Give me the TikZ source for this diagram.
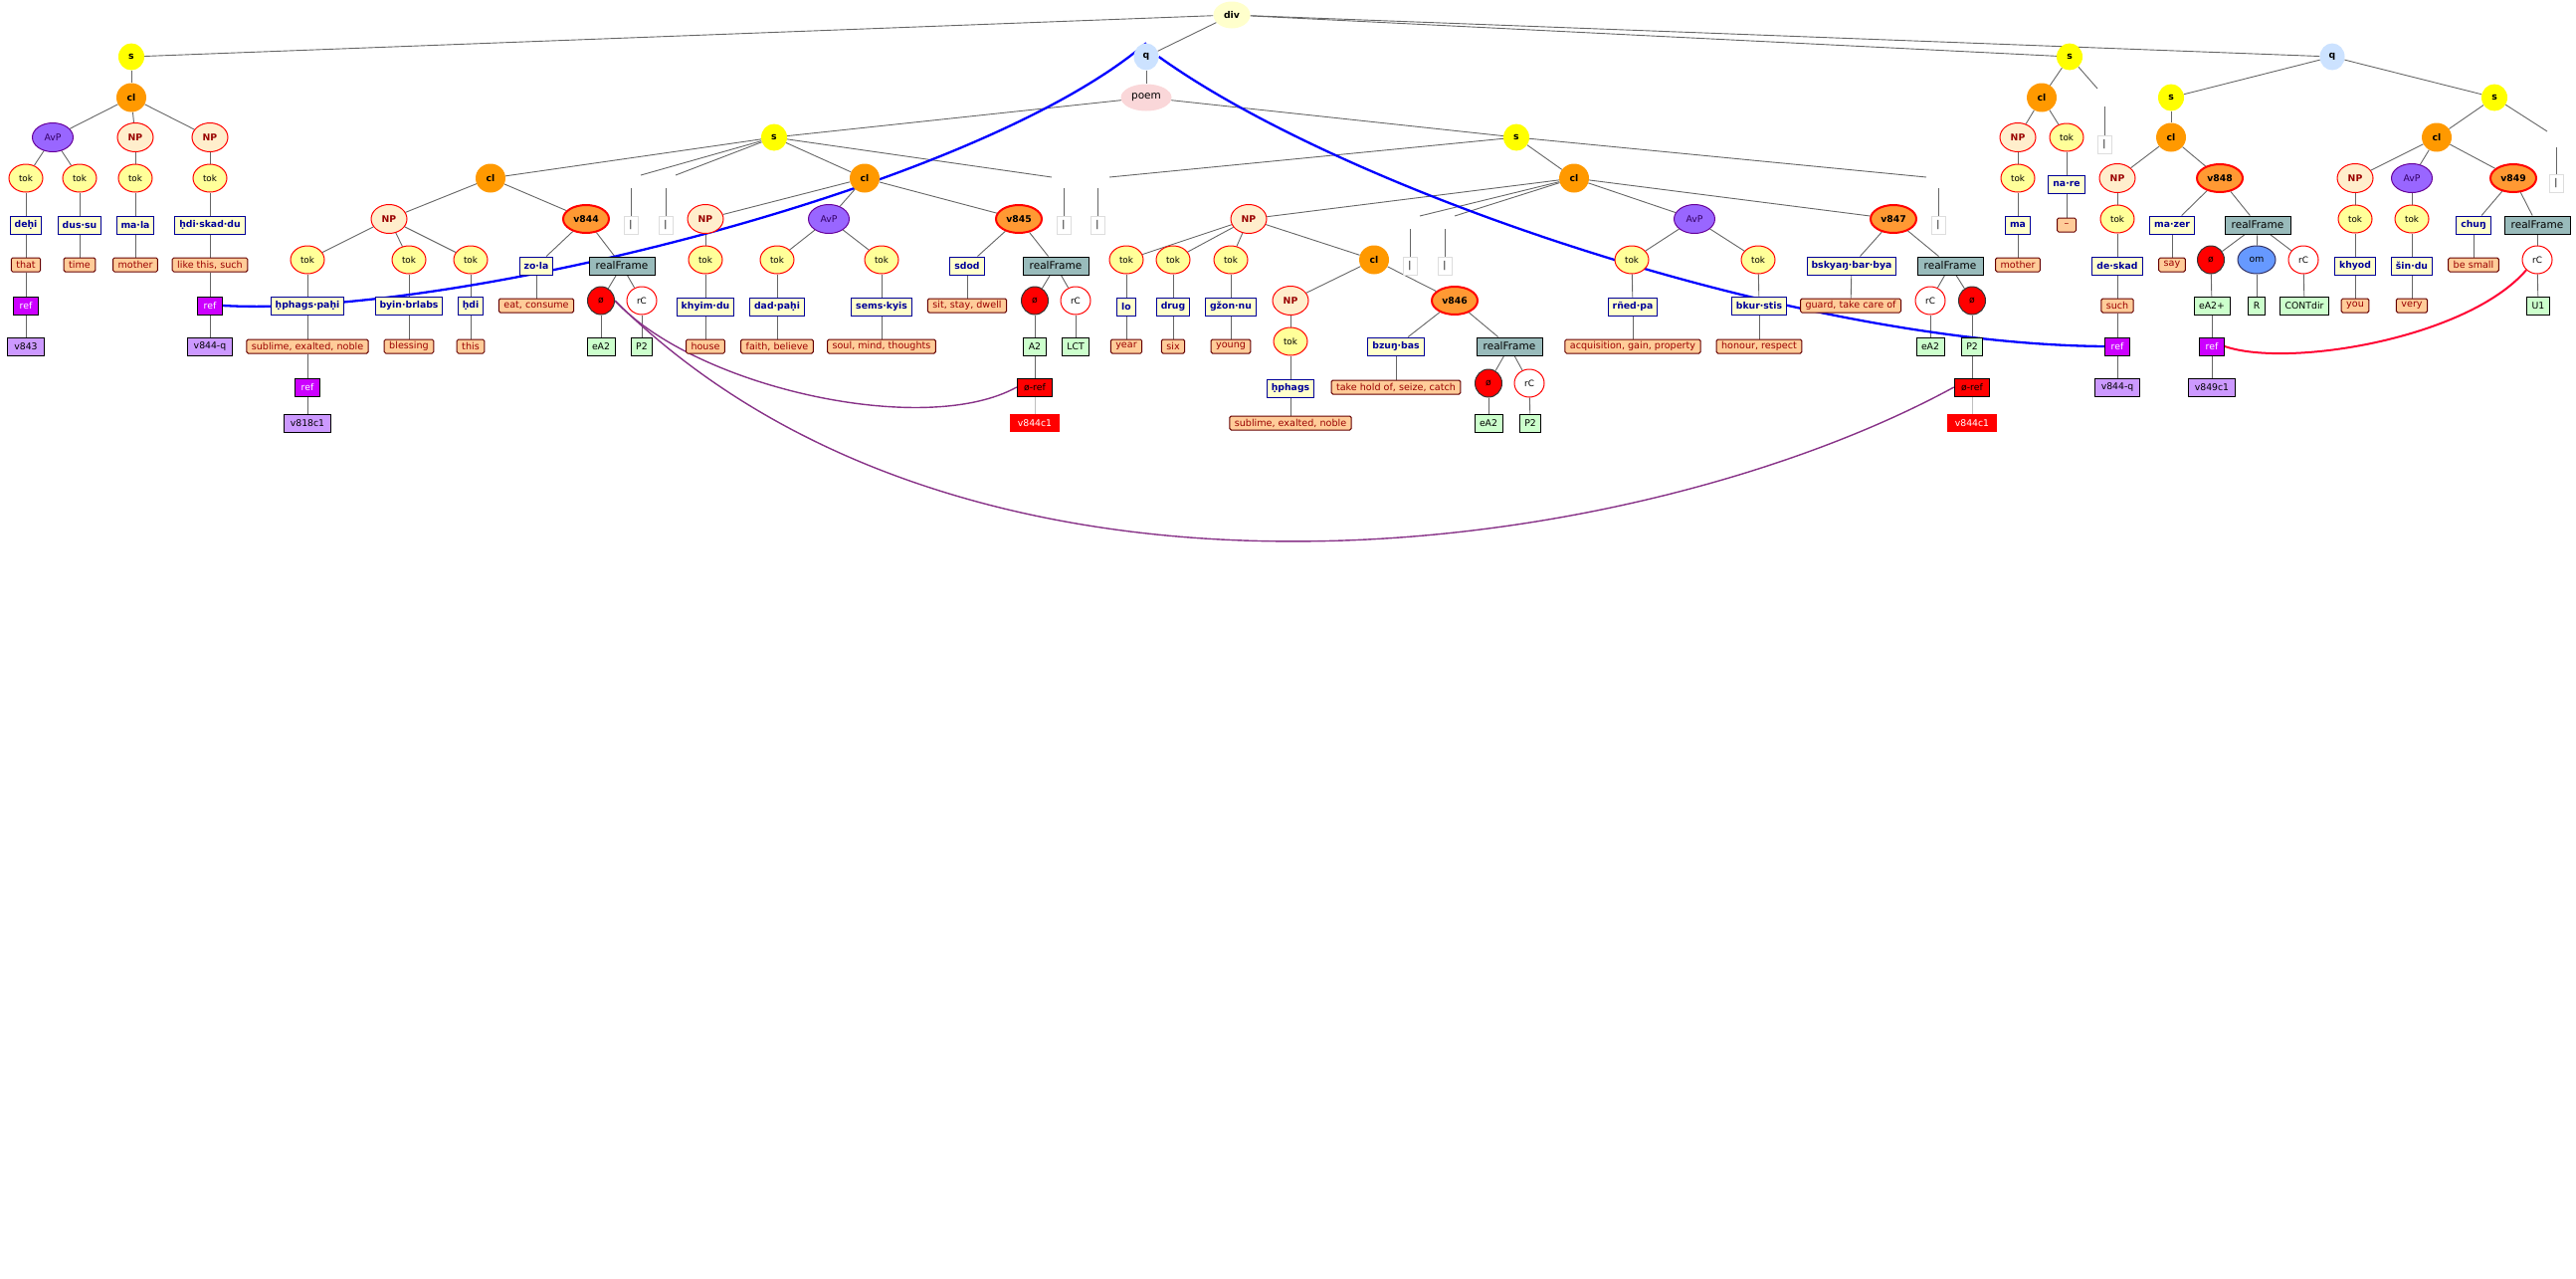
\documentclass[tikz,border=0pt]{standalone}
\usepackage{fontspec}
\setmainfont{DejaVu Sans}
\usetikzlibrary{shapes.geometric,backgrounds}
\definecolor{edgeg}{HTML}{666666}
\definecolor{yelS}{HTML}{FFFF00}
\definecolor{oraC}{HTML}{FF9900}
\definecolor{blueQ}{HTML}{CCE2FF}
\definecolor{yelD}{HTML}{FFFFCC}
\definecolor{pinkP}{HTML}{FAD7D9}
\definecolor{purA}{HTML}{9966FF}
\definecolor{purB}{HTML}{660099}
\definecolor{purT}{HTML}{330066}
\definecolor{peachN}{HTML}{FFEECC}
\definecolor{dkred}{HTML}{990000}
\definecolor{yelT}{HTML}{FFFF99}
\definecolor{oraV}{HTML}{FF9933}
\definecolor{wnavy}{HTML}{000099}
\definecolor{peachG}{HTML}{FFCC99}
\definecolor{glossl}{HTML}{660000}
\definecolor{rfteal}{HTML}{99BBBB}
\definecolor{omblue}{HTML}{6699FF}
\definecolor{omdark}{HTML}{333366}
\definecolor{greenR}{HTML}{CCFFCC}
\definecolor{magR}{HTML}{CC00FF}
\definecolor{lavT}{HTML}{CC99FF}
\definecolor{barg}{HTML}{DDDDDD}
\definecolor{blueL}{HTML}{0000FF}
\definecolor{purL}{HTML}{883388}
\definecolor{redL}{HTML}{FF0033}
\definecolor{redF}{HTML}{FF0000}
\newcommand\fntA{\fontsize{9.3}{11}\selectfont}
\newcommand\fntG{\fontsize{9.6}{11}\selectfont}
\newcommand\fntB{\fontsize{10.5}{12}\selectfont}
\newcommand\fntT{\fontsize{8.8}{10}\selectfont}
\begin{document}
\begin{tikzpicture}[x=1pt,y=-1pt,
 every node/.style={inner sep=0pt,font=\fntA},
 ed/.style={draw=edgeg,line width=0.9pt},
 edl/.style={draw=black!25,line width=0.9pt},
 sN/.style={ellipse,fill=yelS,minimum width=26pt,minimum height=27pt,font=\fntA\bfseries},
 clN/.style={ellipse,fill=oraC,minimum width=30pt,minimum height=29pt,font=\fntA\bfseries},
 qN/.style={ellipse,fill=blueQ,minimum width=25pt,minimum height=27pt,font=\fntA\bfseries},
 divN/.style={ellipse,fill=yelD,minimum width=37pt,minimum height=27pt,font=\fntA\bfseries},
 poemN/.style={ellipse,fill=pinkP,minimum width=51pt,minimum height=27pt,font=\fntB},
 avpN/.style={ellipse,fill=purA,draw=purB,line width=1pt,minimum width=41pt,minimum height=29pt,text=purT},
 npN/.style={ellipse,fill=peachN,draw=red,line width=1pt,minimum width=36pt,minimum height=29pt,font=\fntA\bfseries,text=dkred},
 tokN/.style={ellipse,fill=yelT,draw=red,line width=1pt,minimum width=34pt,minimum height=28pt,font=\fntT},
 vN/.style={ellipse,fill=oraV,draw=redF,line width=2pt,minimum width=46pt,minimum height=28pt,font=\fntA\bfseries},
 wordN/.style={rectangle,fill=yelD,draw=wnavy,line width=1pt,minimum height=18pt,inner xsep=4.5pt,font=\fntA\bfseries,text=wnavy},
 glossN/.style={rectangle,rounded corners=1.5pt,fill=peachG,draw=glossl,line width=1pt,minimum height=14pt,inner xsep=5pt,font=\fntG,text=dkred},
 rfN/.style={rectangle,fill=rfteal,draw=black,line width=1pt,minimum width=66pt,minimum height=18pt,font=\fntB},
 zeroN/.style={ellipse,fill=redF,draw=black!80,line width=1pt,minimum width=27pt,minimum height=28pt},
 rcN/.style={ellipse,fill=white,draw=redF,line width=1pt,minimum width=30pt,minimum height=28pt,font=\fntT},
 omN/.style={ellipse,fill=omblue,draw=omdark,line width=1pt,minimum width=38pt,minimum height=28pt},
 roleN/.style={rectangle,fill=greenR,draw=black,line width=0.8pt,minimum height=18pt,inner xsep=5pt},
 refN/.style={rectangle,fill=magR,draw=black,line width=0.8pt,minimum width=25pt,minimum height=18pt,text=white},
 tgtN/.style={rectangle,fill=lavT,draw=black,line width=0.8pt,minimum height=18pt,inner xsep=6.5pt},
 zrefN/.style={rectangle,fill=redF,draw=black,line width=0.8pt,minimum height=18pt,inner xsep=7pt},
 redtN/.style={rectangle,fill=redF,minimum height=18pt,inner xsep=7.5pt,text=white},
 barN/.style={rectangle,fill=white,draw=barg,line width=0.8pt,minimum width=14pt,minimum height=18pt},
 blueC/.style={draw=blueL,line width=2.3pt},
 purC/.style={draw=purL,line width=1.4pt},
 redC/.style={draw=redL,line width=2pt}]
\useasboundingbox (0,0) rectangle (2589,1285);
% ---------- top ----------
\node[divN] (div) at (1238,15) {div};
% ---------- s1 ----------
\node[sN] (s1) at (132,57) {s};
\node[clN] (cl1) at (132,98) {cl};
\node[avpN] (avp1) at (53,138) {AvP};
\node[npN] (np1a) at (136,138) {NP};
\node[npN] (np1b) at (211,138) {NP};
\node[tokN] (t1) at (26,179) {tok};
\node[tokN] (t2) at (80,179) {tok};
\node[tokN] (t3) at (136,179) {tok};
\node[tokN] (t4) at (211,179) {tok};
\node[wordN] (w1) at (26,226) {deḥi};
\node[wordN] (w2) at (80,226) {dus·su};
\node[wordN] (w3) at (136,226) {ma·la};
\node[wordN] (w4) at (211,226) {ḥdi·skad·du};
\node[glossN] (g1) at (26,266) {that};
\node[glossN] (g2) at (80,266) {time};
\node[glossN] (g3) at (136,266) {mother};
\node[glossN] (g4) at (211,266) {like this, such};
\node[refN] (r1) at (26,307) {ref};
\node[tgtN] (v1) at (26,348) {v843};
\node[refN] (r2) at (211,307) {ref};
\node[tgtN] (v2) at (211,348) {v844-q};
% ---------- q1 ----------
\node[qN] (q1) at (1152,57) {q};
\node[poemN] (poem) at (1152,98) {poem};
\node[sN] (s2) at (778,138) {s};
\node[clN] (cl2) at (493,179) {cl};
\node[npN] (np2) at (391,220) {NP};
\node[vN] (v844) at (589,220) {v844};
\node[tokN] (t5) at (309,261) {tok};
\node[tokN] (t6) at (411,261) {tok};
\node[tokN] (t7) at (473,261) {tok};
\node[wordN] (w5) at (309,307) {ḥphags·paḥi};
\node[wordN] (w6) at (411,307) {byin·brlabs};
\node[wordN] (w7) at (473,307) {ḥdi};
\node[glossN] (g5) at (309,348) {sublime, exalted, noble};
\node[glossN] (g6) at (411,348) {blessing};
\node[glossN] (g7) at (473,348) {this};
\node[refN] (r3) at (309,389) {ref};
\node[tgtN] (v3) at (309,425) {v818c1};
\node[wordN] (w8) at (539,267) {zo·la};
\node[glossN] (g8) at (539,307) {eat, consume};
\node[rfN] (rf1) at (625,267) {realFrame};
\node[zeroN] (z1) at (604,302) {ø};
\node[rcN] (rc1) at (645,302) {rC};
\node[roleN] (ro1) at (604,348) {eA2};
\node[roleN] (ro2) at (645,348) {P2};
\node[barN] (b1) at (634,226) {|};
\node[barN] (b2) at (669,226) {|};
\node[clN] (cl3) at (869,179) {cl};
\node[npN] (np3) at (709,220) {NP};
\node[avpN] (avp2) at (833,220) {AvP};
\node[vN] (v845) at (1024,220) {v845};
\node[tokN] (t8) at (709,261) {tok};
\node[tokN] (t9) at (781,261) {tok};
\node[tokN] (t10) at (886,261) {tok};
\node[wordN] (w9) at (709,308) {khyim·du};
\node[wordN] (w10) at (781,308) {dad·paḥi};
\node[wordN] (w11) at (886,308) {sems·kyis};
\node[glossN] (g9) at (709,348) {house};
\node[glossN] (g10) at (781,348) {faith, believe};
\node[glossN] (g11) at (886,348) {soul, mind, thoughts};
\node[wordN] (w12) at (972,267) {sdod};
\node[glossN] (g12) at (972,307) {sit, stay, dwell};
\node[rfN] (rf2) at (1061,267) {realFrame};
\node[zeroN] (z2) at (1040,302) {ø};
\node[rcN] (rc2) at (1081,302) {rC};
\node[roleN] (ro3) at (1040,348) {A2};
\node[roleN] (ro4) at (1081,348) {LCT};
\node[zrefN] (zr1) at (1040,389) {ø-ref};
\node[redtN] (vr1) at (1040,425) {v844c1};
\node[barN] (b3) at (1069,226) {|};
% ---------- s3 ----------
\node[sN] (s3) at (1524,138) {s};
\node[barN] (b4) at (1103,226) {|};
\node[clN] (cl4) at (1582,179) {cl};
\node[npN] (np4) at (1255,220) {NP};
\node[tokN] (t11) at (1132,261) {tok};
\node[tokN] (t12) at (1179,261) {tok};
\node[tokN] (t13) at (1237,261) {tok};
\node[wordN] (w13) at (1132,308) {lo};
\node[wordN] (w14) at (1179,308) {drug};
\node[wordN] (w15) at (1237,308) {gžon·nu};
\node[glossN] (g13) at (1132,348) {year};
\node[glossN] (g14) at (1179,348) {six};
\node[glossN] (g15) at (1237,348) {young};
\node[clN] (cl5) at (1381,261) {cl};
\node[npN] (np5) at (1297,302) {NP};
\node[vN] (v846) at (1462,302) {v846};
\node[tokN] (t14) at (1297,343) {tok};
\node[wordN] (w16) at (1297,390) {ḥphags};
\node[glossN] (g16) at (1297,425) {sublime, exalted, noble};
\node[wordN] (w17) at (1403,348) {bzuŋ·bas};
\node[glossN] (g17) at (1403,389) {take hold of, seize, catch};
\node[rfN] (rf3) at (1517,348) {realFrame};
\node[zeroN] (z3) at (1496,385) {ø};
\node[rcN] (rc3) at (1537,385) {rC};
\node[roleN] (ro5) at (1496,425) {eA2};
\node[roleN] (ro6) at (1538,425) {P2};
\node[barN] (b5) at (1417,267) {|};
\node[barN] (b6) at (1452,267) {|};
\node[avpN] (avp3) at (1703,220) {AvP};
\node[tokN] (t15) at (1640,261) {tok};
\node[tokN] (t16) at (1767,261) {tok};
\node[wordN] (w18) at (1641,308) {rñed·pa};
\node[wordN] (w19) at (1768,307) {bkur·stis};
\node[glossN] (g18) at (1641,348) {acquisition, gain, property};
\node[glossN] (g19) at (1768,348) {honour, respect};
\node[vN] (v847) at (1903,220) {v847};
\node[wordN] (w20) at (1861,267) {bskyaŋ·bar·bya};
\node[glossN] (g20) at (1860,307) {guard, take care of};
\node[rfN] (rf4) at (1960,267) {realFrame};
\node[rcN] (rc4) at (1940,302) {rC};
\node[zeroN] (z4) at (1982,302) {ø};
\node[roleN] (ro7) at (1940,348) {eA2};
\node[roleN] (ro8) at (1982,348) {P2};
\node[zrefN] (zr2) at (1982,389) {ø-ref};
\node[redtN] (vr2) at (1982,425) {v844c1};
\node[barN] (b7) at (1948,226) {|};
% ---------- s4 ----------
\node[sN] (s4) at (2080,57) {s};
\node[clN] (cl6) at (2052,98) {cl};
\node[npN] (np6) at (2028,138) {NP};
\node[tokN] (t17) at (2077,138) {tok};
\node[tokN] (t18) at (2028,179) {tok};
\node[wordN] (w21) at (2028,226) {ma};
\node[glossN] (g21) at (2028,266) {mother};
\node[wordN] (w22) at (2077,185) {na·re};
\node[glossN,minimum width=19pt] (g22) at (2077,226) {–};
\node[barN] (b8) at (2115,145) {|};
% ---------- q2 ----------
\node[qN] (q2) at (2344,57) {q};
\node[sN] (s5) at (2182,98) {s};
\node[clN] (cl7) at (2182,138) {cl};
\node[npN] (np7) at (2128,179) {NP};
\node[vN] (v848) at (2231,179) {v848};
\node[tokN] (t19) at (2128,220) {tok};
\node[wordN] (w23) at (2128,267) {de·skad};
\node[glossN] (g23) at (2128,307) {such};
\node[refN] (r4) at (2128,348) {ref};
\node[tgtN] (v4) at (2128,389) {v844-q};
\node[wordN] (w24) at (2183,226) {ma·zer};
\node[glossN] (g24) at (2183,266) {say};
\node[rfN] (rf5) at (2269,226) {realFrame};
\node[zeroN] (z5) at (2222,261) {ø};
\node[omN] (om) at (2268,261) {om};
\node[rcN] (rc5) at (2315,261) {rC};
\node[roleN] (ro9) at (2223,307) {eA2+};
\node[roleN] (ro10) at (2268,307) {R};
\node[roleN] (ro11) at (2316,307) {CONTdir};
\node[refN] (r5) at (2223,348) {ref};
\node[tgtN] (v5) at (2223,389) {v849c1};
\node[sN] (s6) at (2507,98) {s};
\node[clN] (cl8) at (2449,138) {cl};
\node[npN] (np8) at (2367,179) {NP};
\node[avpN] (avp4) at (2424,179) {AvP};
\node[vN] (v849) at (2526,179) {v849};
\node[tokN] (t20) at (2367,220) {tok};
\node[tokN] (t21) at (2424,220) {tok};
\node[wordN] (w25) at (2367,267) {khyod};
\node[wordN] (w26) at (2424,267) {šin·du};
\node[glossN] (g25) at (2367,307) {you};
\node[glossN] (g26) at (2424,307) {very};
\node[wordN] (w27) at (2486,226) {chuŋ};
\node[glossN] (g27) at (2486,266) {be small};
\node[rfN] (rf6) at (2550,226) {realFrame};
\node[rcN] (rc6) at (2550,261) {rC};
\node[roleN] (ro12) at (2551,307) {U1};
\node[barN] (b9) at (2569,184) {|};
% ---------- free ends for bar edges ----------
\coordinate (b1e) at (644,176);  \coordinate (b1v) at (634,189);
\coordinate (b2e) at (679,176);  \coordinate (b2v) at (669,189);
\coordinate (b3e) at (1057,178); \coordinate (b3v) at (1069,189);
\coordinate (b4e) at (1115,178); \coordinate (b4v) at (1103,189);
\coordinate (b5e) at (1427,217); \coordinate (b5v) at (1417,230);
\coordinate (b6e) at (1462,217); \coordinate (b6v) at (1452,230);
\coordinate (b7e) at (1936,178); \coordinate (b7v) at (1948,189);
\coordinate (b8e) at (2108,89);  \coordinate (b8v) at (2115,107);
\coordinate (b9e) at (2560,132); \coordinate (b9v) at (2569,148);
\begin{pgfonlayer}{background}
\foreach \a/\b in {div/s1, div/q1, div/s4, div/q2,
 s1/cl1, cl1/avp1, cl1/np1a, cl1/np1b, avp1/t1, avp1/t2, np1a/t3, np1b/t4,
 t1/w1, t2/w2, t3/w3, t4/w4, w1/g1, w2/g2, w3/g3, w4/g4, g1/r1, r1/v1, g4/r2, r2/v2,
 q1/poem, poem/s2, poem/s3,
 s2/cl2, s2/cl3, s2/b1e, s2/b2e, s2/b3e, b1v/b1, b2v/b2, b3v/b3,
 cl2/np2, cl2/v844, np2/t5, np2/t6, np2/t7, t5/w5, w5/g5, g5/r3, r3/v3, t6/w6, w6/g6, t7/w7, w7/g7,
 v844/w8, w8/g8, v844/rf1, rf1/z1, rf1/rc1, z1/ro1, rc1/ro2,
 cl3/np3, cl3/avp2, cl3/v845, np3/t8, t8/w9, w9/g9, avp2/t9, avp2/t10, t9/w10, w10/g10, t10/w11, w11/g11,
 v845/w12, w12/g12, v845/rf2, rf2/z2, rf2/rc2, z2/ro3, ro3/zr1, rc2/ro4,
 s3/b4e, b4v/b4, s3/cl4, s3/b7e, b7v/b7,
 cl4/np4, cl4/b5e, cl4/b6e, b5v/b5, b6v/b6, cl4/avp3, cl4/v847,
 np4/t11, np4/t12, np4/t13, np4/cl5, t11/w13, w13/g13, t12/w14, w14/g14, t13/w15, w15/g15,
 cl5/np5, cl5/v846, np5/t14, t14/w16, w16/g16, v846/w17, w17/g17, v846/rf3, rf3/z3, rf3/rc3, z3/ro5, rc3/ro6,
 avp3/t15, avp3/t16, t15/w18, w18/g18, t16/w19, w19/g19,
 v847/w20, w20/g20, v847/rf4, rf4/rc4, rf4/z4, rc4/ro7, z4/ro8, ro8/zr2,
 s4/cl6, s4/b8e, b8v/b8, cl6/np6, cl6/t17, np6/t18, t18/w21, w21/g21, t17/w22, w22/g22,
 q2/s5, q2/s6, s5/cl7, cl7/np7, cl7/v848, np7/t19, t19/w23, w23/g23, g23/r4, r4/v4,
 v848/w24, w24/g24, v848/rf5, rf5/z5, rf5/om, rf5/rc5, z5/ro9, ro9/r5, r5/v5, om/ro10, rc5/ro11,
 s6/cl8, s6/b9e, b9v/b9, cl8/np8, cl8/avp4, cl8/v849, np8/t20, t20/w25, w25/g25, avp4/t21, t21/w26, w26/g26,
 v849/w27, w27/g27, v849/rf6, rf6/rc6, rc6/ro12}
 \draw[ed] (\a) -- (\b);
\draw[edl] (zr1) -- (vr1);
\draw[edl] (zr2) -- (vr2);
\draw[blueC] (r2.east) .. controls (450,320) and (980,190) .. (q1.north);
\draw[blueC] (q1.east) .. controls (1350,190) and (1800,345) .. (r4.west);
\draw[purC] (z1.east) .. controls (700,390) and (930,440) .. (zr1.west);
\draw[purC] (z1.east) .. controls (980,660) and (1650,560) .. (zr2.west);
\draw[redC] (r5.east) .. controls (2300,370) and (2480,340) .. (rc6.south west);
\end{pgfonlayer}
\end{tikzpicture}
\end{document}
